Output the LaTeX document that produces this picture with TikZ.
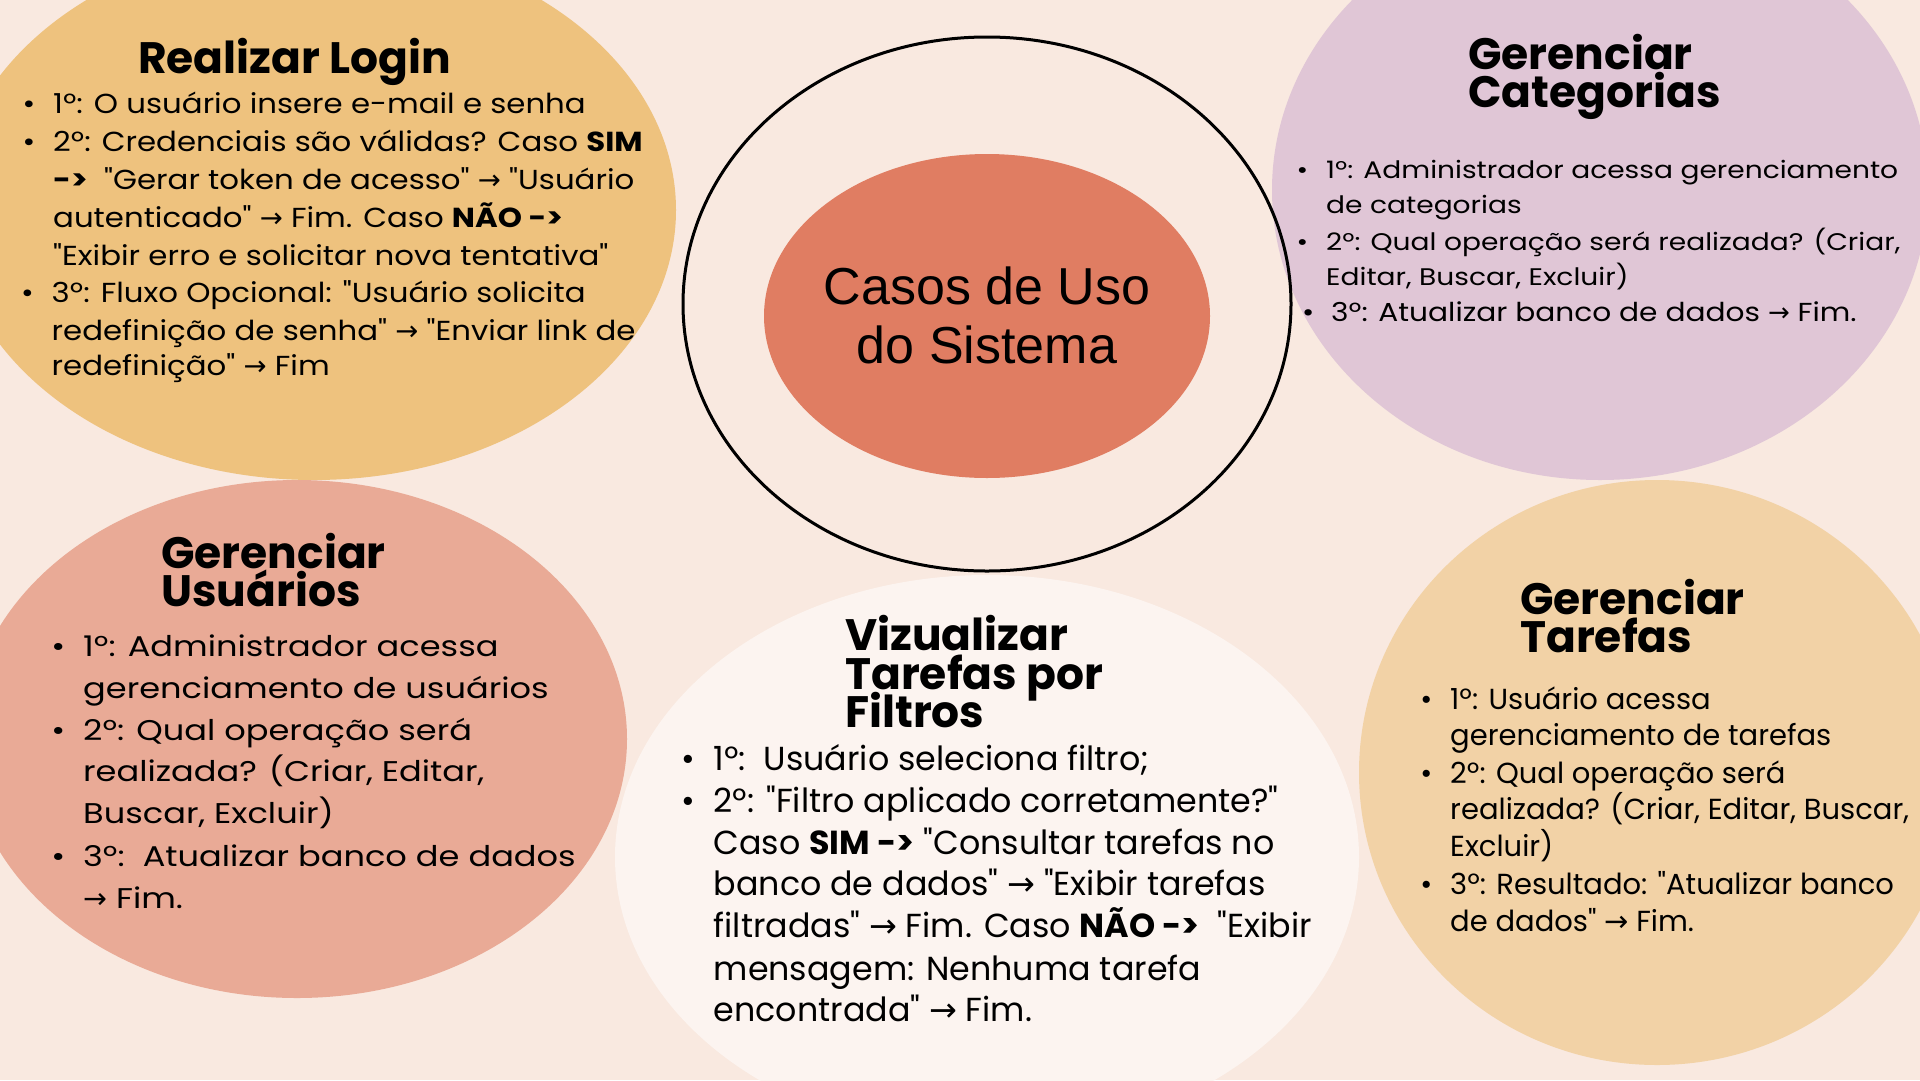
\documentclass[tikz,border=0pt]{standalone}
\usepackage{fontspec}
\newfontfamily\pop{Poppins}
\newfontfamily\popL{Poppins}[FakeStretch=1.12]
\newfontfamily\popC{Poppins}[FakeStretch=1.17]
\newfontfamily\popCc{Poppins}[FakeStretch=1.14]
\newfontfamily\popU{Poppins}[FakeStretch=1.18]
\newfontfamily\arrowfont{DejaVu Sans}
\newfontfamily\corefont{Liberation Sans}
\usetikzlibrary{shapes.geometric}
\definecolor{bg}{HTML}{F9E9E0}
\definecolor{clogin}{HTML}{EEC27E}
\definecolor{ccat}{HTML}{E0C6D6}
\definecolor{cusr}{HTML}{E9AA96}
\definecolor{cviz}{HTML}{FCF4F0}
\definecolor{ctar}{HTML}{F2D2A6}
\definecolor{ccore}{HTML}{E07D62}
\newcommand\ra{{\arrowfont →}}
\newcommand\bul[1][18pt]{\llap{•\hspace{#1}}}
\newcommand\fs[1]{\fontsize{#1}{#1}\selectfont}
\begin{document}
\begin{tikzpicture}[x=1pt,y=-1pt,
  blob/.style={ellipse, inner sep=0pt, draw=none},
  ln/.style={anchor=base west, inner sep=0pt, text=black},
  ttl/.style={ln, font=\pop\bfseries\fs{44}},
  lgtext/.style={ln, font=\popL\fs{27.5}},
  cattext/.style={ln, font=\popC\fs{24}},
  usrtext/.style={ln, font=\popU\fs{28.5}},
  viztext/.style={ln, font=\pop\fs{33.3}},
  tartext/.style={ln, font=\pop\fs{29}}]
\useasboundingbox (0,0) rectangle (1920,1080);
\fill[bg] (0,0) rectangle (1920,1080);
\begin{scope}
\clip (0,0) rectangle (1920,1080);
\node[blob, fill=clogin, minimum width=724pt, minimum height=540pt] (login) at (314,210) {};
\node[blob, fill=ccat, minimum width=656pt, minimum height=580pt] (cat) at (1600,190) {};
\node[blob, fill=cusr, minimum width=660pt, minimum height=518pt] (usr) at (297,739) {};
\node[blob, fill=cviz, minimum width=744pt, minimum height=564pt] (viz) at (987,857) {};
\node[blob, fill=ctar, minimum width=596pt, minimum height=585pt] (tar) at (1657,772.5) {};
\node[blob, draw=black, line width=3pt, minimum width=608pt, minimum height=534pt] (outer) at (987,304) {};
\node[blob, fill=ccore, minimum width=446pt, minimum height=324pt] (core) at (987,316) {};
\end{scope}

% centre
\node[ln, anchor=base, font=\corefont\fs{52}] (core1) at (987,304) {Casos de Uso};
\node[ln, anchor=base, font=\corefont\fs{52}] (core2) at (987,363.5) {do Sistema};

% Realizar Login
\node[ttl] (lgT) at (138,73) {Realizar Login};
\node[lgtext] (lg1) at (53,113) {\bul 1º: O usuário insere e-mail e senha};
\node[lgtext] (lg2) at (53,151.5) {\bul 2º: Credenciais são válidas? Caso \textbf{SIM}};
\node[lgtext] (lg3) at (53,189) {\textbf{->}\ \ "Gerar token de acesso" \ra{} "Usuário};
\node[lgtext] (lg4) at (53,227) {autenticado" \ra{} Fim. Caso \textbf{NÃO ->}};
\node[lgtext] (lg5) at (53,265) {"Exibir erro e solicitar nova tentativa"};
\node[lgtext] (lg6) at (51.5,302.5) {\bul 3º: Fluxo Opcional: "Usuário solicita};
\node[lgtext] (lg7) at (51.5,340) {redefinição de senha" \ra{} "Enviar link de};
\node[lgtext] (lg8) at (51.5,375.5) {redefinição" \ra{} Fim};

% Gerenciar Categorias
\node[ttl] (catT1) at (1468,69.5) {Gerenciar};
\node[ttl] (catT2) at (1468,107) {Categorias};
\node[cattext] (cat1) at (1326,178.5) {\bul 1º: Administrador acessa gerenciamento};
\node[cattext] (cat2) at (1326,213.5) {de categorias};
\node[cattext] (cat3) at (1326,250) {\bul 2º: Qual operação será realizada? (Criar,};
\node[cattext] (cat4) at (1326,285) {Editar, Buscar, Excluir)};
\node[ln, font=\popCc\fs{26}] (cat5) at (1331,321.5) {\bul[17pt]3º: Atualizar banco de dados \ra{} Fim.};

% Gerenciar Usuarios
\node[ttl] (usrT1) at (161,568.5) {Gerenciar};
\node[ttl] (usrT2) at (161,606.5) {Usuários};
\node[usrtext] (usr1) at (83,656.5) {\bul 1º: Administrador acessa};
\node[usrtext] (usr2) at (83,698.5) {gerenciamento de usuários};
\node[usrtext] (usr3) at (83,740) {\bul 2º: Qual operação será};
\node[usrtext] (usr4) at (83,781.5) {realizada? (Criar, Editar,};
\node[usrtext] (usr5) at (83,823.5) {Buscar, Excluir)};
\node[usrtext] (usr6) at (83,866.5) {\bul 3º:\ \ Atualizar banco de dados};
\node[usrtext] (usr7) at (83,908.5) {\ra{} Fim.};

% Vizualizar
\node[ttl] (vizT1) at (845,650.5) {Vizualizar};
\node[ttl] (vizT2) at (845,689) {Tarefas por};
\node[ttl] (vizT3) at (845,727) {Filtros};
\node[viztext] (viz1) at (713.5,770.5) {\bul 1º:\ \ Usuário seleciona filtro;};
\node[viztext] (viz2) at (713.5,812.5) {\bul 2º: "Filtro aplicado corretamente?"};
\node[viztext] (viz3) at (713.5,854) {Caso \textbf{SIM ->} "Consultar tarefas no};
\node[viztext] (viz4) at (713.5,895.5) {banco de dados" \ra{} "Exibir tarefas};
\node[viztext] (viz5) at (713.5,937) {filtradas" \ra{} Fim. Caso \textbf{NÃO ->}\ \ "Exibir};
\node[viztext] (viz6) at (713.5,980) {mensagem: Nenhuma tarefa};
\node[viztext] (viz7) at (713.5,1021) {encontrada" \ra{} Fim.};

% Gerenciar Tarefas
\node[ttl] (tarT1) at (1520,614.5) {Gerenciar};
\node[ttl] (tarT2) at (1520,652.5) {Tarefas};
\node[tartext] (tar1) at (1450,709.5) {\bul 1º: Usuário acessa};
\node[tartext] (tar2) at (1450,745) {gerenciamento de tarefas};
\node[tartext] (tar3) at (1450,783) {\bul 2º: Qual operação será};
\node[tartext] (tar4) at (1450,819.5) {realizada? (Criar, Editar, Buscar,};
\node[tartext] (tar5) at (1450,856.5) {Excluir)};
\node[tartext] (tar6) at (1450,894.5) {\bul 3º: Resultado: "Atualizar banco};
\node[tartext] (tar7) at (1450,931) {de dados" \ra{} Fim.};
\end{tikzpicture}
\end{document}
